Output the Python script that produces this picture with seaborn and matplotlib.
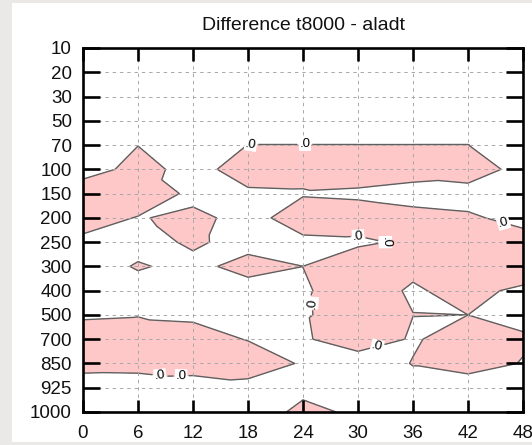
import numpy as np
import matplotlib
matplotlib.use("Agg")
import matplotlib.pyplot as plt
import matplotlib.tri as mtri
from matplotlib.patches import Rectangle
import seaborn as sns

sns.set_theme(style="white")
plt.rcParams['font.family'] = ['Liberation Sans', 'DejaVu Sans']

# ---- data ----
title = "Difference t8000 - aladt"
hours = [0, 6, 12, 18, 24, 30, 36, 42, 48]
levels = [10, 20, 30, 50, 70, 100, 150, 200, 250, 300, 400, 500, 700, 850, 925, 1000]

p10 = [-0.42, -0.51, -0.38, -0.45, -0.60, -0.55, -0.47, -0.40, -0.52]
p20 = [-0.48, -0.44, -0.52, -0.40, -0.58, -0.50, -0.45, -0.49, -0.55]
p30 = [-0.55, -0.47, -0.41, -0.53, -0.46, -0.44, -0.51, -0.43, -0.50]
p50 = [-0.60, -0.50, -0.55, -0.45, -0.40, -0.50, -0.45, -0.40, -0.60]
p70 = [-0.50, -0.01, -0.40, 0.01, 0.01, 0.01, 0.01, 0.01, -0.40]
p100 = [-0.35, 0.25, -0.25, 0.32, 0.30, 0.50, 0.34, 0.53, -0.35]
p150 = [0.52, 1.00, -0.33, -0.11, -0.075, -0.15, -0.30, -0.40, -0.50]
p200 = [0.69, -0.077, 0.27, -0.36, 0.50, 0.43, 0.25, 0.14, -0.30]
p250 = [-0.355, -0.37, 0.15, -0.35, -0.21, -0.14, 0.14, 0.35, 0.40]
p300 = [-0.52, 0.09, -0.27, 0.34, 0.004, 0.56, 0.186, 0.50, 0.69]
p400 = [-0.50, -0.42, -0.55, -0.42, -0.088, 0.40, -0.10, 0.285, -0.206]
p500 = [-0.15, -0.07, -0.116, -0.30, -0.11, 0.50, 0.0113, -0.0005, -0.28]
p700 = [0.60, 0.80, 0.27, -0.03, -0.187, 0.85, -0.15, 0.68, 0.126]
p850 = [0.50, 0.55, 0.50, 0.40, -0.07, -0.85, 0.058, 0.40, -0.049]
p925 = [-0.75, -0.825, -0.50, -0.235, -0.20, -0.60, -0.52, -0.53, -0.40]
p1000 = [-0.60, -0.70, -0.50, -0.467, 0.20, -0.133, -0.40, -0.50, -0.30]

# label anchor points (hour, level index) for the ".0" contour labels
label_hours = [18.3, 24.2, 45.8, 30.0, 33.2, 25.1, 32.1, 8.4, 10.7]
label_rows = [4.0, 4.0, 7.3, 7.8, 8.0, 10.5, 12.3, 13.5, 13.55]

Z = np.array([p10, p20, p30, p50, p70, p100, p150, p200, p250, p300,
              p400, p500, p700, p850, p925, p1000], dtype=float)

# ---- triangulated grid (diagonal chosen per cell like marching squares) ----
nr, nc = Z.shape
XX, YY = np.meshgrid(np.array(hours, float), np.arange(nr, dtype=float))
x = XX.ravel(); y = YY.ravel(); z = Z.ravel()
sx, sy = 55.0 / 6.0, 24.27  # px per unit, for geometry decisions only


def cross(k1, k2):
    t = z[k1] / (z[k1] - z[k2])
    return np.array([x[k1] + t * (x[k2] - x[k1]), y[k1] + t * (y[k2] - y[k1])])


def dev(p1, p2, pd):
    a = np.array([p1[0] * sx, p1[1] * sy]); b = np.array([p2[0] * sx, p2[1] * sy])
    d = np.array([pd[0] * sx, pd[1] * sy])
    ab = b - a
    return abs(ab[0] * (d - a)[1] - ab[1] * (d - a)[0]) / (np.hypot(*ab) + 1e-12)


tris = []
for r in range(nr - 1):
    for c in range(nc - 1):
        tl, tr, br, bl = r * nc + c, r * nc + c + 1, (r + 1) * nc + c + 1, (r + 1) * nc + c
        corners = [tl, tr, br, bl]
        s = [z[k] > 0 for k in corners]
        n = sum(s)
        diag = 'A'  # A: tl-br, B: tr-bl
        if n in (1, 3):
            iso = [i for i in range(4) if s[i] == (n == 1)][0]
            diag = 'B' if iso in (0, 2) else 'A'
        elif n == 2 and s[0] == s[2]:
            diag = 'A' if not s[0] else 'B'
        elif n == 2:
            edges = [(tl, tr), (tr, br), (br, bl), (bl, tl)]
            pts = [cross(a, b) for a, b in edges if (z[a] > 0) != (z[b] > 0)]
            dA = dev(pts[0], pts[1], cross(tl, br))
            dB = dev(pts[0], pts[1], cross(tr, bl))
            diag = 'A' if dA <= dB else 'B'
        if diag == 'A':
            tris += [[tl, tr, br], [tl, br, bl]]
        else:
            tris += [[tl, tr, bl], [tr, br, bl]]

tri = mtri.Triangulation(x, y, np.array(tris))

# ---- figure ----
fig = plt.figure(figsize=(5.32, 4.45), dpi=100, facecolor='#ebe9e8')
fig.add_artist(Rectangle((12 / 532, 3 / 445), 520 / 532, 439 / 445,
                         transform=fig.transFigure, facecolor='white',
                         edgecolor='none', zorder=-5))
ax = fig.add_axes([83 / 532, 33 / 445, 440 / 532, 364 / 445])
ax.set_facecolor('white')

ax.tricontourf(tri, z, levels=[0, 100], colors=['#ffc8c8'], zorder=1)
cs = ax.tricontour(tri, z, levels=[0], colors=['#606060'], linewidths=1.0, zorder=2)
ax.clabel(cs, levels=[0], fmt=lambda v: '.0', fontsize=9.5, inline=True,
          inline_spacing=2, colors='black',
          manual=list(zip(label_hours, label_rows)))
for t in cs.labelTexts:
    t.set_bbox(dict(boxstyle='square,pad=0.05', facecolor='white', edgecolor='none'))
    t.set_zorder(4)

ax.set_xlim(0, 48)
ax.set_ylim(nr - 1, 0)
ax.set_xticks(hours)
ax.set_xticklabels([str(h) for h in hours])
ax.set_yticks(range(nr))
ax.set_yticklabels([str(p) for p in levels])

ax.grid(True, color='#a8a8a8', linestyle=(0, (3.5, 4)), linewidth=0.7, zorder=3)
ax.set_axisbelow(False)

for sp in ax.spines.values():
    sp.set_color('black')
    sp.set_linewidth(1.9)
    sp.set_zorder(5)

ax.tick_params(axis='y', which='major', direction='in', left=True, right=True,
               length=12, width=1.9, color='black', labelsize=13.5, pad=8,
               labelcolor='#111111')
ax.tick_params(axis='x', which='major', direction='in', bottom=True, top=True,
               length=9, width=1.9, color='black', labelsize=13.5, pad=9,
               labelcolor='#111111')

ax.set_title(title, fontsize=14, pad=13, color='#111111')

fig.savefig('out.png', dpi=100, facecolor=fig.get_facecolor())
